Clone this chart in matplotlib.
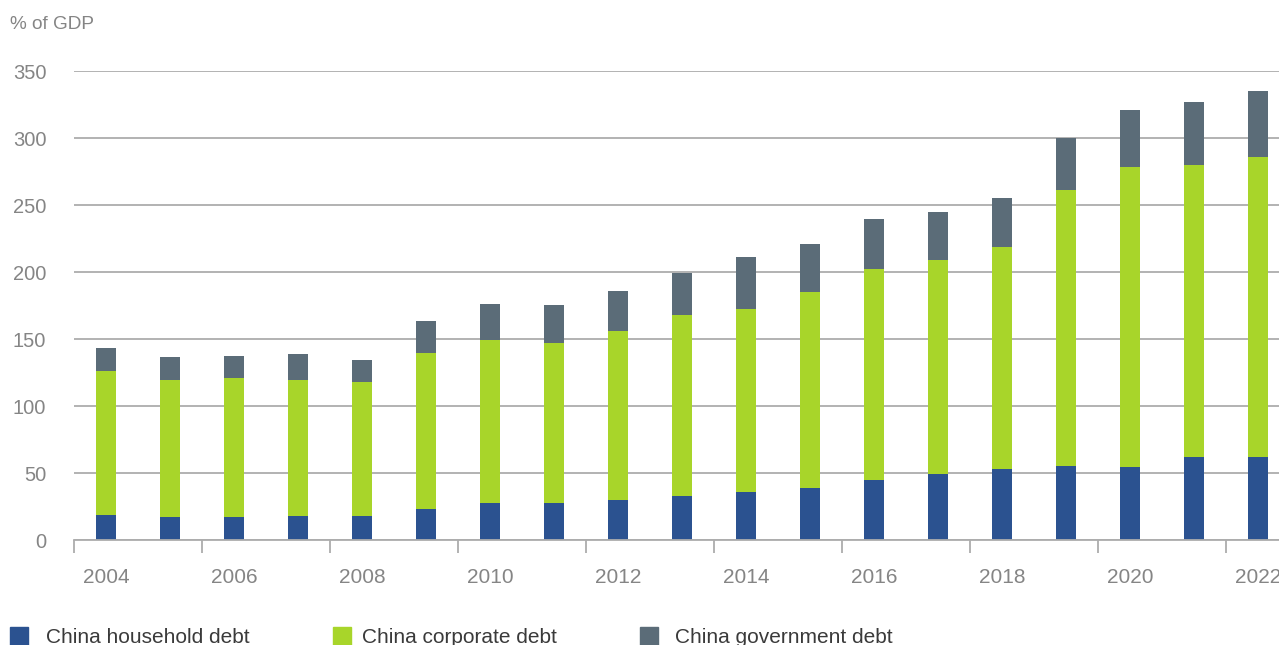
import numpy as np
import matplotlib.pyplot as plt
import matplotlib.patches as mpatches

plt.rcParams['font.family'] = ['Liberation Sans', 'DejaVu Sans']

# ── Data (% of GDP) ───────────────────────────────────────────────────────────
years = list(range(2004, 2023))
household = [18.6, 16.9, 17.1, 18.1, 17.9, 22.9, 27.4, 27.5, 29.8, 33.0,
             35.6, 39.0, 44.7, 49.0, 52.9, 55.4, 54.2, 61.7, 61.7]
corporate = [107.4, 102.9, 104.2, 101.7, 99.9, 117.1, 122.3, 119.6, 126.3, 134.8,
             136.7, 146.0, 157.9, 160.3, 165.8, 205.6, 224.7, 218.4, 224.1]
government = [17.7, 16.9, 15.9, 19.2, 16.9, 23.5, 26.8, 28.1, 29.6, 31.8,
              39.0, 36.4, 36.8, 36.0, 36.9, 39.0, 42.3, 46.8, 49.8]

series_names = ["China household debt", "China corporate debt", "China government debt"]
C_HH = "#2b5290"
C_CORP = "#a8d52a"
C_GOV = "#5b6c78"
colors = [C_HH, C_CORP, C_GOV]

TICK_GREY = "#858585"
GRID_GREY = "#adadad"

# ── Figure ────────────────────────────────────────────────────────────────────
W, H = 1279, 645
fig = plt.figure(figsize=(W / 100, H / 100), dpi=100)
# axes runs slightly past the right edge on purpose (last category is cut)
ax = fig.add_axes([74 / W, (H - 540) / H, 1216 / W, (540 - 71.3) / H])

x = np.arange(len(years))
width = 0.31
hh = np.array(household)
co = np.array(corporate)
gv = np.array(government)

ax.bar(x, hh, width, color=C_HH, zorder=3)
ax.bar(x, co, width, bottom=hh, color=C_CORP, zorder=3)
ax.bar(x, gv, width, bottom=hh + co, color=C_GOV, zorder=3)

ax.set_xlim(-0.5, len(years) - 0.5)
ax.set_ylim(0, 350)
ax.set_yticks(np.arange(0, 351, 50))
ax.grid(axis="y", color=GRID_GREY, lw=1.3, zorder=0)

# labels under the even years, tick marks on the 2-year boundaries
ax.set_xticks(x[::2])
ax.set_xticklabels([str(y) for y in years[::2]])
ax.set_xticks(np.arange(-0.5, len(years) - 1, 2), minor=True)
ax.tick_params(axis="x", which="major", length=0, pad=20.5, labelsize=15, labelcolor=TICK_GREY)
ax.tick_params(axis="x", which="minor", length=9, width=1.3, color=GRID_GREY)
ax.tick_params(axis="y", length=0, pad=20, labelsize=14.5, labelcolor=TICK_GREY)

for side in ["top", "right", "left"]:
    ax.spines[side].set_visible(False)
ax.spines["bottom"].set_color(GRID_GREY)
ax.spines["bottom"].set_linewidth(1.3)
ax.spines["bottom"].set_zorder(4)

fig.text(10 / W, (H - 29) / H, "% of GDP", fontsize=13.7, color=TICK_GREY, va="baseline")

# ── Legend along the bottom ───────────────────────────────────────────────────
sq_x = [10, 333, 640]
txt_x = [46.5, 362, 675]
for name, c, sx, tx in zip(series_names, colors, sq_x, txt_x):
    fig.add_artist(mpatches.Rectangle((sx / W, (H - 646) / H), 18 / W, 19 / H,
                                      transform=fig.transFigure, color=c))
    fig.text(tx / W, (H - 643) / H, name, fontsize=15, color="#3a3a3a", va="baseline")

fig.savefig("out.png", dpi=100)
